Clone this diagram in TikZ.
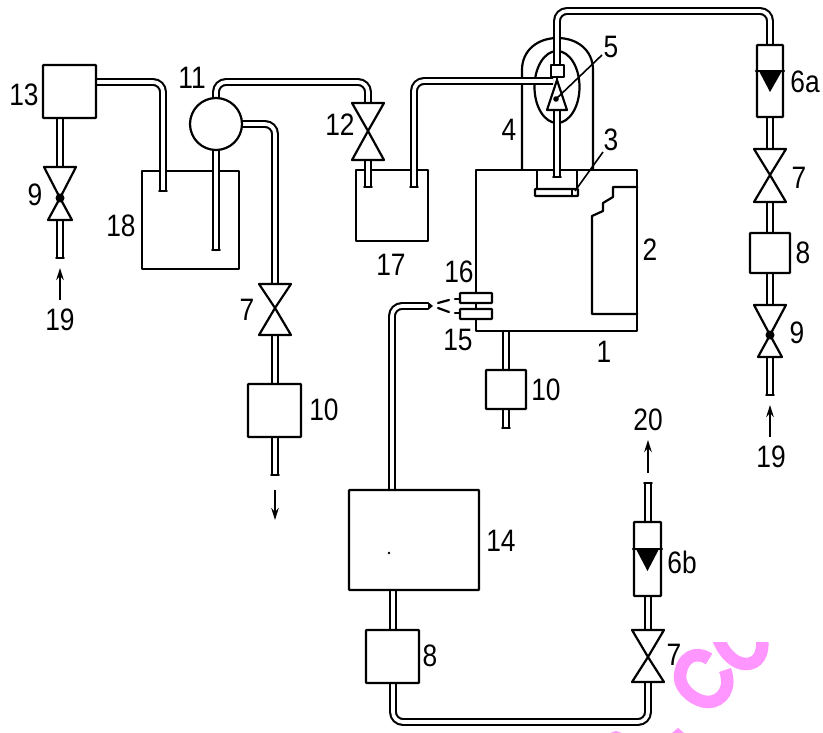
\documentclass[tikz,border=0pt]{standalone}
\usepackage{fontspec}
\setmainfont[FakeStretch=0.85]{Liberation Sans}
\usetikzlibrary{arrows.meta,shapes.geometric,calc}
\definecolor{stamp}{RGB}{255,150,255}
\tikzset{
  ln/.style={line width=2.2pt,line join=round,line cap=round},
  pipe/.style={draw=black,line width=2.1pt,double=white,double distance=3.7pt,rounded corners=10pt},
  endcap/.style={ln},
  boxn/.style={draw,fill=white,line width=2.2pt,rectangle,inner sep=0pt,rounded corners=0.6pt},
  tank/.style={draw,line width=2.2pt,line join=round},
  lab/.style={font=\fontsize{31}{31}\selectfont,inner sep=0pt,text=black},
  flow/.style={line width=2pt,-{Stealth[length=12pt,width=7.5pt]}},
  lead/.style={line width=1.6pt},
  valvebody/.style={draw,fill=white,line width=2.2pt,line join=round},
  ink/.style={stamp,line width=12.5pt,line cap=butt}
}
\newcommand{\valvesym}[6]{% name, x, top, waist, bottom, half width lower
  \coordinate (#1t) at (#2,#3);
  \coordinate (#1b) at (#2,#5);
  \coordinate (#1w) at (#2,#4);
  \draw[valvebody] (#2-16,#3) -- (#2+16,#3) -- (#2,#4) -- (#2+#6,#5) -- (#2-#6,#5) -- (#2,#4) -- cycle;
}
\newcommand{\capend}[1]{\draw[endcap] ($(#1)+(-3.8,0)$) -- ($(#1)+(3.8,0)$);}
\begin{document}
\begin{tikzpicture}[x=1pt,y=-1pt]
\useasboundingbox[fill=white] (0,0) rectangle (823,733);

% stamp
\begin{scope}
\clip (600,642) rectangle (823,733);
\draw[ink] (709,659) .. controls (696,650) and (681,657) .. (680,677)
  .. controls (680,690) and (696,702) .. (708,702)
  .. controls (722,702) and (732,688) .. (725,670);
\draw[ink] (718,638) .. controls (724,654) and (735,664) .. (746,664)
  .. controls (757,664) and (764,655) .. (762,638);
\end{scope}
\fill[stamp] (672,733) -- (678,728) -- (684,733) -- cycle;
\fill[stamp] (610,733) -- (616,731) -- (622,733) -- cycle;

% tanks and housings
\draw[tank] (142,171) rectangle (239,269);
\draw[tank] (356,170) rectangle (428,241);
\node[tank,draw,rectangle,minimum width=161pt,minimum height=161pt,inner sep=0pt] (n1) at (556.5,250.5) {};
\draw[tank] (n1.south east |- 0,187) -- (613,187) -- (613,197) -- (603,203) -- (603,211) -- (592,216) -- (592,314) -- (n1.south east |- 0,314);
\coordinate (archL) at (522,170);
\coordinate (archR) at (593,170);
\draw[tank] (archL) -- (522,70) .. controls (522,50) and (538,38) .. (557.5,38)
  .. controls (577,38) and (593,50) .. (593,70) -- (archR);
\node[draw,ellipse,line width=2.2pt,minimum width=45pt,minimum height=72pt,inner sep=0pt] (n5e) at (557,87) {};
\draw[tank] (537,170) -- (537,189) (577,170) -- (577,189);

% valves' coordinates needed first
\coordinate (v9Lt) at (60,167);\coordinate (v9Lb) at (60,220);
\coordinate (v7Lt) at (275,284);\coordinate (v7Lb) at (275,335);
\coordinate (v12t) at (368,103);\coordinate (v12b) at (368,160);
\coordinate (v7at) at (770,149);\coordinate (v7ab) at (770,202);
\coordinate (v9Rt) at (770,305);\coordinate (v9Rb) at (770,357);
\coordinate (v7bt) at (648,630);\coordinate (v7bb) at (648,682);

% free ends
\coordinate (e18a) at (163,191);
\coordinate (e18b) at (216,250);
\coordinate (e17a) at (368,187);
\coordinate (e17b) at (414,187);
\coordinate (e19L) at (60,258);
\coordinate (e10L) at (275,475);
\coordinate (e10R) at (506,428);
\coordinate (e19R) at (770,395);
\coordinate (e20) at (648,483);
\coordinate (e5low) at (557,177);
\coordinate (e5tri) at (557,110);
\coordinate (e5top) at (557,67);
\coordinate (e5side) at (553,81);
\coordinate (tip) at (428,306);

% pipes
\draw[pipe] (96,82) -- (163,82) -- (e18a);
\draw[pipe] (216,150) -- (e18b);
\draw[pipe] (216,100) -- (216,82) -- (368,82) -- (v12t);
\draw[pipe] (v12b) -- (e17a);
\draw[pipe] (e17b) -- (414,81) -- (e5side);
\draw[pipe] (230,124) -- (275,124) -- (v7Lt);
\draw[pipe] (v7Lb) -- (275,390);
\draw[pipe] (275,430) -- (e10L);
\draw[pipe] (60,110) -- (v9Lt);
\draw[pipe] (v9Lb) -- (e19L);
\draw[pipe] (e5low) -- (e5tri);
\draw[pipe] (e5top) -- (557,11) -- (770,11) -- (770,50);
\draw[pipe] (770,110) -- (v7at);
\draw[pipe] (v7ab) -- (770,240);
\draw[pipe] (770,270) -- (v9Rt);
\draw[pipe] (v9Rb) -- (e19R);
\draw[pipe] (506,332) -- (506,375);
\draw[pipe] (506,400) -- (e10R);
\draw[pipe] (648,530) -- (e20);
\draw[pipe] (648,590) -- (v7bt);
\draw[pipe] (v7bb) -- (648,722) -- (393,722) -- (393,675);
\draw[pipe] (393,585) -- (393,640);
\draw[pipe] (392,500) -- (392,306) -- (tip);
\foreach \e in {e18a,e18b,e17a,e17b,e19L,e10L,e10R,e19R,e20,e5low}{\capend{\e}}
\fill (tip) ++(0,-4) -- (433,306) -- (428,310) -- cycle;

% boxes
\node[boxn,minimum width=53pt,minimum height=53pt] (n13) at (69.5,91.5) {};
\node[boxn,minimum width=53pt,minimum height=53pt] (n10L) at (274.5,410.5) {};
\node[boxn,minimum width=40pt,minimum height=39pt] (n10R) at (506,389.5) {};
\node[boxn,minimum width=40pt,minimum height=40pt] (n8R) at (770,253) {};
\node[boxn,minimum width=53pt,minimum height=53pt] (n8B) at (392.5,656.5) {};
\node[boxn,minimum width=130pt,minimum height=100pt] (n14) at (414,540) {};
\node[boxn,minimum width=26pt,minimum height=72pt] (n6a) at (770,81) {};
\node[boxn,minimum width=27pt,minimum height=74pt] (n6b) at (647.5,559) {};
\node[boxn,minimum width=32pt,minimum height=10pt] (n16) at (476,298) {};
\node[boxn,minimum width=32pt,minimum height=10pt] (n15) at (476,314) {};
\node[draw,fill=white,circle,line width=2.2pt,minimum size=52pt,inner sep=0pt] (n11) at (216,124) {};
\fill (389,553) circle (1.3pt);

% flow meter floats
\draw[ln] (n6a.west |- 0,71) -- (n6a.east |- 0,71);
\draw[ln] (n6b.west |- 0,549) -- (n6b.east |- 0,549);
\fill[line join=round] (759,71) -- (782,71) -- (770,92) -- cycle;
\fill[line join=round] (636,549) -- (659,549) -- (647.5,571) -- cycle;

% item 3 plate
\node[boxn,minimum width=43pt,minimum height=7pt] (n3) at (556.5,192.5) {};
\draw[ln] (572,189) -- (572,196);

% item 5
\draw[valvebody] (551,65) rectangle (564,77);
\draw[valvebody] (557,80) -- (567,110) -- (547,110) -- cycle;
\draw[ln] (557,77) -- (557,80);
\fill (556,99) circle (2.8pt);

% valves
\valvesym{v9L}{60}{167}{198}{220}{12}
\valvesym{v7L}{275}{284}{308}{335}{16}
\valvesym{v12}{368}{103}{131}{160}{16}
\valvesym{v7a}{770}{149}{175}{202}{16}
\valvesym{v9R}{770}{305}{335}{357}{12}
\valvesym{v7b}{648}{630}{657}{682}{16}
\fill (v9Lw) circle (4.5pt);
\fill (v9Rw) circle (4.5pt);

% leaders
\draw[lead] (556,99) -- (602,55);
\draw[lead] (575,191) -- (603,152);

% spray
\coordinate (s16) at (460,299);
\coordinate (s15) at (460,313);
\draw[ln] (s16) -- (455,299);
\draw[ln] (s15) -- (455,313);
\draw[ln] (438,303) -- (449,300);
\draw[ln] (438,308) -- (449,312);

% arrows
\draw[flow] (60,300) -- (e19L |- 0,268);
\draw[flow] (275,490) -- (275,520);
\draw[flow] (770,437) -- (770,405);
\draw[flow] (648,473) -- (648,440);

% labels
\node[lab] (l13) at (24,95) {13};
\node[lab] (l9a) at (35,195) {9};
\node[lab] (l19a) at (60,320) {19};
\node[lab] (l18) at (121,226) {18};
\node[lab] (l11) at (192,78) {11};
\node[lab] (l7a) at (247,310) {7};
\node[lab] (l10a) at (324,410) {10};
\node[lab] (l12) at (340,125) {12};
\node[lab] (l17) at (391,265) {17};
\node[lab] (l4) at (509,130) {4};
\node[lab] (l5) at (611,47) {5};
\node[lab] (l3) at (611,140) {3};
\node[lab] (l2) at (650,250) {2};
\node[lab] (l16) at (459,272) {16};
\node[lab] (l15) at (458,340) {15};
\node[lab] (l1) at (604,352) {1};
\node[lab] (l10b) at (546,390) {10};
\node[lab] (l14) at (501,541) {14};
\node[lab] (l8a) at (430,656) {8};
\node[lab] (l7b) at (674,655) {7};
\node[lab] (l6b) at (682,562) {6b};
\node[lab] (l20) at (648,420) {20};
\node[lab] (l6a) at (805,82) {6a};
\node[lab] (l7c) at (799,178) {7};
\node[lab] (l8b) at (803,253) {8};
\node[lab] (l9b) at (797,333) {9};
\node[lab] (l19b) at (771,457) {19};
\end{tikzpicture}
\end{document}
